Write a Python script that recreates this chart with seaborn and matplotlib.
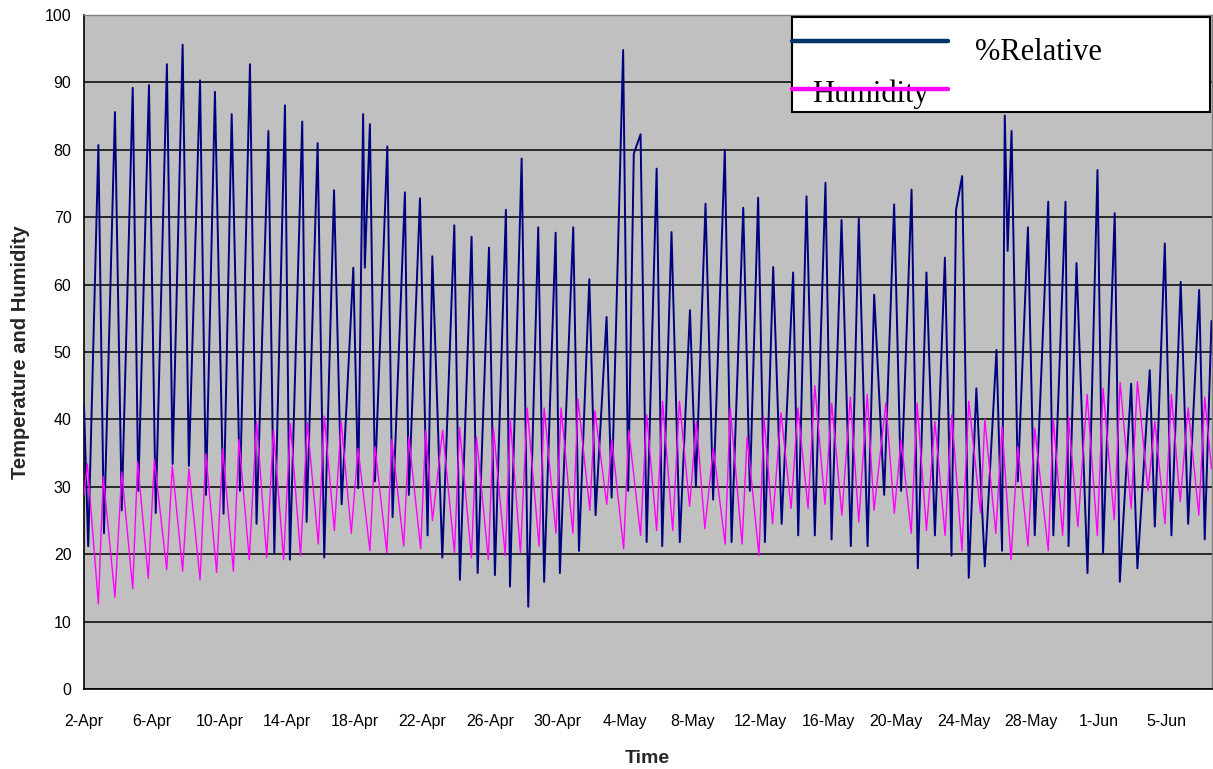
import matplotlib
matplotlib.use("Agg")
import matplotlib.pyplot as plt
import seaborn as sns
import pandas as pd
from matplotlib.patches import Rectangle
from matplotlib.lines import Line2D

# ---- data (days since 2-Apr) ----
rh_day = [0.0, 0.25, 0.85, 1.18, 1.83, 2.23, 2.88, 3.21, 3.84, 4.24, 4.90, 5.24, 5.83, 6.20, 6.86,
          7.21, 7.74, 8.25, 8.73, 9.22, 9.81, 10.20, 10.90, 11.25, 11.88, 12.17, 12.90, 13.16, 13.81,
          14.20, 14.78, 15.23, 15.92, 16.21, 16.50, 16.60, 16.90, 17.20, 17.93, 18.24, 18.97, 19.20,
          19.86, 20.31, 20.59, 21.18, 21.89, 22.22, 22.91, 23.27, 23.94, 24.29, 24.94, 25.18, 25.87,
          26.26, 26.85, 27.20, 27.88, 28.13, 28.92, 29.26, 29.87, 30.24, 30.89, 31.19, 31.87, 32.17,
          32.50, 32.90, 33.26, 33.85, 34.18, 34.73, 35.22, 35.82, 36.17, 36.74, 37.19, 37.88, 38.28,
          38.97, 39.36, 39.85, 40.25, 40.74, 41.24, 41.92, 42.22, 42.71, 43.20, 43.83, 44.19, 44.78,
          45.33, 45.80, 46.32, 46.71, 47.30, 47.89, 48.30, 48.92, 49.29, 49.80, 50.30, 50.89, 51.28,
          51.55, 51.91, 52.30, 52.75, 53.25, 53.94, 54.27, 54.43, 54.60, 54.83, 55.20, 55.80, 56.20,
          57.00, 57.30, 58.02, 58.20, 58.67, 59.32, 59.91, 60.24, 60.93, 61.23, 61.90, 62.27, 63.00,
          63.30, 63.89, 64.28, 64.83, 65.27, 65.92, 66.25, 66.65]
rh_val = [42.0, 21.2, 80.7, 23.1, 85.6, 26.5, 89.2, 29.4, 89.6, 26.1, 92.7, 33.4, 95.6, 33.1, 90.3,
          28.8, 88.6, 26.0, 85.3, 29.4, 92.7, 24.5, 82.8, 20.2, 86.6, 19.2, 84.2, 24.8, 81.0,
          19.5, 74.0, 27.4, 62.5, 29.8, 85.3, 62.5, 83.8, 30.8, 80.5, 25.5, 73.7, 28.8,
          72.8, 22.8, 64.2, 19.5, 68.8, 16.2, 67.1, 17.2, 65.5, 16.9, 71.1, 15.2, 78.7,
          12.2, 68.5, 15.9, 67.7, 17.2, 68.5, 20.5, 60.8, 25.8, 55.2, 28.4, 94.8, 29.4,
          79.4, 82.3, 21.8, 77.2, 21.2, 67.8, 21.8, 56.2, 30.1, 72.0, 28.1, 80.0, 21.8,
          71.4, 29.4, 72.9, 21.8, 62.6, 24.5, 61.8, 22.8, 73.1, 22.8, 75.1, 22.2, 69.6,
          21.2, 69.8, 21.2, 58.5, 28.8, 71.9, 29.4, 74.1, 17.9, 61.8, 22.8, 64.0, 19.8,
          71.1, 76.1, 16.5, 44.6, 18.2, 50.3, 20.5, 85.1, 65.0, 82.8, 30.8, 68.5, 22.8,
          72.3, 22.8, 72.3, 21.2, 63.2, 17.2, 77.0, 20.2, 70.6, 15.9, 45.3, 17.9, 47.3,
          24.1, 66.1, 22.8, 60.4, 24.5, 59.2, 22.2, 54.6]

temp_day = [0.0, 0.20, 0.85, 1.14, 1.83, 2.23, 2.88, 3.17, 3.80, 4.16, 4.89, 5.22, 5.83, 6.20, 6.86,
            7.20, 7.84, 8.20, 8.83, 9.16, 9.77, 10.20, 10.80, 11.20, 11.80, 12.20, 12.80, 13.20, 13.85,
            14.20, 14.80, 15.20, 15.80, 16.20, 16.90, 17.20, 17.90, 18.20, 18.90, 19.20, 19.90, 20.20,
            20.60, 21.20, 21.90, 22.20, 22.90, 23.20, 23.90, 24.20, 24.90, 25.20, 25.80, 26.20, 26.90,
            27.20, 27.90, 28.20, 28.90, 29.20, 29.90, 30.20, 30.90, 31.20, 31.90, 32.20, 32.90, 33.26,
            33.85, 34.20, 34.80, 35.20, 35.80, 36.20, 36.70, 37.20, 37.90, 38.20, 38.90, 39.20, 39.90,
            40.20, 40.70, 41.20, 41.80, 42.20, 42.80, 43.20, 43.80, 44.20, 44.80, 45.30, 45.80, 46.30,
            46.70, 47.40, 47.90, 48.30, 48.90, 49.25, 49.80, 50.30, 50.90, 51.30, 51.90, 52.30, 53.00,
            53.25, 53.90, 54.27, 54.80, 55.20, 55.80, 56.20, 57.00, 57.30, 57.85, 58.20, 58.75, 59.30,
            59.90, 60.24, 60.90, 61.25, 61.90, 62.27, 62.90, 63.30, 63.90, 64.28, 64.80, 65.27, 65.90,
            66.25, 66.65]
temp_val = [28.8, 33.4, 12.6, 31.5, 13.6, 32.2, 14.9, 33.7, 16.4, 34.0, 17.7, 33.1, 17.5, 32.7, 16.2,
            34.9, 17.3, 35.6, 17.5, 37.0, 19.2, 39.7, 19.5, 38.4, 19.2, 39.4, 19.8, 39.5, 21.5,
            40.5, 23.5, 39.7, 23.1, 35.7, 20.5, 36.0, 20.2, 37.0, 21.2, 37.4, 20.8, 38.4,
            25.0, 38.4, 20.2, 38.8, 19.5, 37.4, 19.2, 38.8, 19.8, 40.0, 20.2, 41.7, 21.2,
            41.7, 23.1, 41.7, 23.1, 43.0, 26.5, 41.3, 27.4, 37.0, 20.8, 38.4, 22.8, 40.7,
            23.5, 42.7, 23.5, 42.7, 27.1, 39.7, 23.8, 35.7, 21.5, 41.7, 21.5, 37.4, 19.8,
            40.3, 24.5, 41.0, 26.8, 41.7, 26.8, 45.0, 27.4, 42.4, 25.8, 43.3, 24.8, 43.7,
            26.5, 42.4, 26.1, 37.0, 23.1, 42.4, 23.5, 39.7, 22.8, 40.7, 20.5, 42.7, 26.1,
            40.0, 23.1, 39.0, 19.2, 36.0, 21.2, 38.7, 20.5, 40.0, 22.8, 40.3, 24.1, 43.7,
            22.8, 44.6, 25.1, 45.5, 26.8, 45.6, 29.4, 39.7, 24.5, 43.7, 27.8, 41.7, 25.8,
            43.3, 32.7]

tick_days = list(range(0, 67))
label_days = list(range(0, 65, 4))
date_labels = ["2-Apr", "6-Apr", "10-Apr", "14-Apr", "18-Apr", "22-Apr", "26-Apr", "30-Apr",
               "4-May", "8-May", "12-May", "16-May", "20-May", "24-May", "28-May", "1-Jun", "5-Jun"]
y_ticks = list(range(0, 101, 10))
legend_labels = ["%Relative", "Humidity"]

rh_df = pd.DataFrame({"day": rh_day, "value": rh_val})
temp_df = pd.DataFrame({"day": temp_day, "value": temp_val})

sns.set_theme(style="white")
plt.rcParams['font.family'] = ['Liberation Sans', 'DejaVu Sans']

W, H = 1213, 769
fig = plt.figure(figsize=(W / 100, H / 100), dpi=100)
fig.patch.set_facecolor("white")
ax = fig.add_axes([84 / W, 1 - 689 / H, (1211.5 - 84) / W, (689 - 15) / H])
ax.set_facecolor("#C0C0C0")

sns.lineplot(data=rh_df, x="day", y="value", color="#000080", linewidth=1.4,
             estimator=None, sort=False, ax=ax, zorder=3)
sns.lineplot(data=temp_df, x="day", y="value", color="#FF00FF", linewidth=1.0,
             estimator=None, sort=False, ax=ax, zorder=4)

ax.set_xlim(0, 66.65)
ax.set_ylim(0, 100)
ax.set_yticks(y_ticks)
ax.set_yticklabels([str(v) for v in y_ticks])
ax.set_xticks(tick_days)
lab = {d: l for d, l in zip(label_days, date_labels)}
ax.set_xticklabels([lab.get(d, "") for d in tick_days])
ax.yaxis.grid(True, color="black", linewidth=1.1)
ax.xaxis.grid(False)
ax.set_axisbelow(True)

ax.tick_params(axis="both", direction="out", length=5, width=1, color="black",
               labelsize=11.5, labelcolor="black")
ax.tick_params(axis="x", pad=13)
ax.tick_params(axis="y", pad=4)
for s in ["left", "bottom"]:
    ax.spines[s].set_color("black")
    ax.spines[s].set_linewidth(1.2)
for s in ["top", "right"]:
    ax.spines[s].set_color("#808080")
    ax.spines[s].set_linewidth(1.0)

ax.set_xlabel("Time", fontsize=14, fontweight="bold", labelpad=15)
ax.set_ylabel("Temperature and Humidity", fontsize=14.5, fontweight="bold", labelpad=11)

# ---- legend box (Excel-like, overlapping text) ----
box = Rectangle((792 / W, 1 - 112 / H), (1210 - 792) / W, (112 - 17) / H,
                transform=fig.transFigure, facecolor="white", edgecolor="black",
                linewidth=1.5, zorder=10)
fig.add_artist(box)
fig.add_artist(Line2D([792 / W, 948 / W], [1 - 41 / H] * 2, transform=fig.transFigure,
                      color="#003366", linewidth=3.2, zorder=12))
fig.add_artist(Line2D([792 / W, 948 / W], [1 - 89 / H] * 2, transform=fig.transFigure,
                      color="#FF00FF", linewidth=3.2, zorder=12))
fig.text(975 / W, 1 - 52 / H, legend_labels[0], fontsize=22, family="Liberation Serif",
         va="center", ha="left", color="black", zorder=11)
t2 = fig.text(812 / W, 1 - 102 / H, legend_labels[1], fontsize=22, family="Liberation Serif",
              va="baseline", ha="left", color="black", zorder=11)
t2.set_clip_path(box)

fig.savefig("out.png", dpi=100)
